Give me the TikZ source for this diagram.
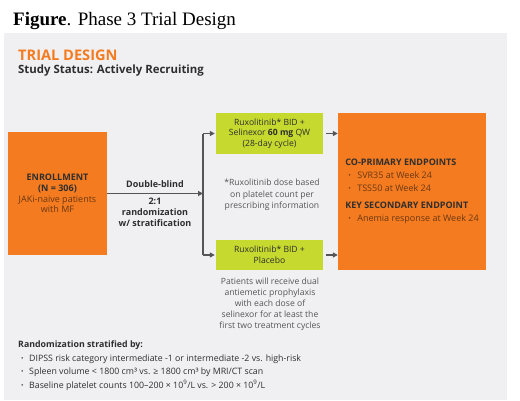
\documentclass[tikz,border=0pt]{standalone}
\usepackage{fontspec}
\setmainfont{Open Sans}
\newfontfamily\titlefont{Liberation Serif}
\usetikzlibrary{arrows.meta}
\definecolor{panel}{HTML}{F0F0F2}
\definecolor{orng}{HTML}{F47B20}
\definecolor{lime}{HTML}{C5D92E}
\definecolor{darktxt}{HTML}{2E2E2E}
\definecolor{graytxt}{HTML}{555555}
\definecolor{brtxt}{HTML}{6A3812}
\definecolor{arrowc}{HTML}{555555}
\newcommand{\bdot}{\textbf{·}}
\begin{document}
\begin{tikzpicture}[x=1pt,y=-1pt,
  body/.style={font=\fontsize{8.6}{10.6}\selectfont, align=center, inner sep=0pt},
  orangebox/.style={fill=orng, draw=none},
  limebox/.style={fill=lime, draw=none, body, text=darktxt, minimum width=107pt},
  arr/.style={draw=arrowc, line width=1.4pt, -{Triangle[length=5pt,width=5pt]}},
  ln/.style={draw=arrowc, line width=1.4pt},
]
\useasboundingbox[fill=white] (0,0) rectangle (520,400);
\fill[panel] (4,33) rectangle (507,400);
\node[anchor=base west, inner sep=0pt, font=\titlefont\fontsize{19}{22}\selectfont] (title) at (13,25) {\textbf{Figure}. Phase 3 Trial Design};
\node[anchor=base west, inner sep=0pt, text=orng, font=\bfseries\fontsize{14.6}{18}\selectfont] (trial) at (18,60) {TRIAL DESIGN};
\node[anchor=base west, inner sep=0pt, text=darktxt, font=\bfseries\fontsize{11.4}{13}\selectfont] (status) at (18,73.5) {Study Status: Actively Recruiting};

\node[orangebox, body, text=darktxt, font=\fontsize{9}{10.6}\selectfont, minimum width=99pt, minimum height=123pt] (enroll) at (57.5,193.5)
  {\textbf{ENROLLMENT}\\\textbf{(N = 306)}\\\textcolor{brtxt}{JAKi-naive patients}\\\textcolor{brtxt}{with MF}};

\node[limebox, minimum height=41pt] (arm1) at (269.5,133.5)
  {Ruxolitinib* BID +\\Selinexor \textbf{60 mg} QW\\(28-day cycle)};
\node[limebox, minimum height=30pt] (arm2) at (269.5,255)
  {Ruxolitinib* BID +\\Placebo};

\node[orangebox, minimum width=148pt, minimum height=157pt, align=left, inner sep=0pt, text=darktxt,
  font=\fontsize{9}{13}\selectfont] (endpts) at (412,191.5)
  {\textbf{CO-PRIMARY ENDPOINTS}\\
   \hspace*{3pt}\makebox[9pt][l]{\textcolor{brtxt}{\bdot}}\textcolor{brtxt}{SVR35 at Week 24}\\
   \hspace*{3pt}\makebox[9pt][l]{\textcolor{brtxt}{\bdot}}\textcolor{brtxt}{TSS50 at Week 24}\\[4pt]
   \textbf{KEY SECONDARY ENDPOINT}\\
   \hspace*{3pt}\makebox[9pt][l]{\textcolor{brtxt}{\bdot}}\textcolor{brtxt}{Anemia response at Week 24}};

\node[body, text=darktxt, font=\bfseries\fontsize{9}{11}\selectfont] (lbl1) at (155,184) {Double-blind};
\node[body, text=darktxt, font=\bfseries\fontsize{9}{11}\selectfont] (lbl2) at (155,212) {2:1\\randomization\\w/ stratification};

\node[body, text=graytxt, font=\fontsize{8.6}{11.5}\selectfont] (note1) at (272,195)
  {*Ruxolitinib dose based\\on platelet count per\\prescribing information};
\node[body, text=graytxt, font=\fontsize{8.6}{11}\selectfont] (note2) at (270,304)
  {Patients will receive dual\\antiemetic prophylaxis\\with each dose of\\selinexor for at least the\\first two treatment cycles};

\node[anchor=north west, inner sep=0pt, align=left, text=darktxt, font=\fontsize{8.8}{13.5}\selectfont] (strat) at (18,341)
  {\textbf{Randomization stratified by:}\\
   \hspace*{3pt}\makebox[8pt][l]{\bdot}DIPSS risk category intermediate -1 or intermediate -2 vs. high-risk\\
   \hspace*{3pt}\makebox[8pt][l]{\bdot}Spleen volume < 1800 cm³ vs. ≥ 1800 cm³ by MRI/CT scan\\
   \hspace*{3pt}\makebox[8pt][l]{\bdot}Baseline platelet counts 100–200 × 10\textsuperscript{9}/L vs. > 200 × 10\textsuperscript{9}/L};

\coordinate (split) at (203,193.5);
\draw[arr] (enroll.east) -- (split);
\draw[ln] (split |- arm1.west) -- (split |- arm2.west);
\draw[arr] (split |- arm1.west) -- ([xshift=-1pt]arm1.west);
\draw[arr] (split |- arm2.west) -- ([xshift=-1pt]arm2.west);
\draw[arr, shorten <=3pt] (arm1.east) -- (arm1.east -| endpts.west);
\draw[arr, shorten <=3pt] (arm2.east) -- (arm2.east -| endpts.west);
\end{tikzpicture}
\end{document}
